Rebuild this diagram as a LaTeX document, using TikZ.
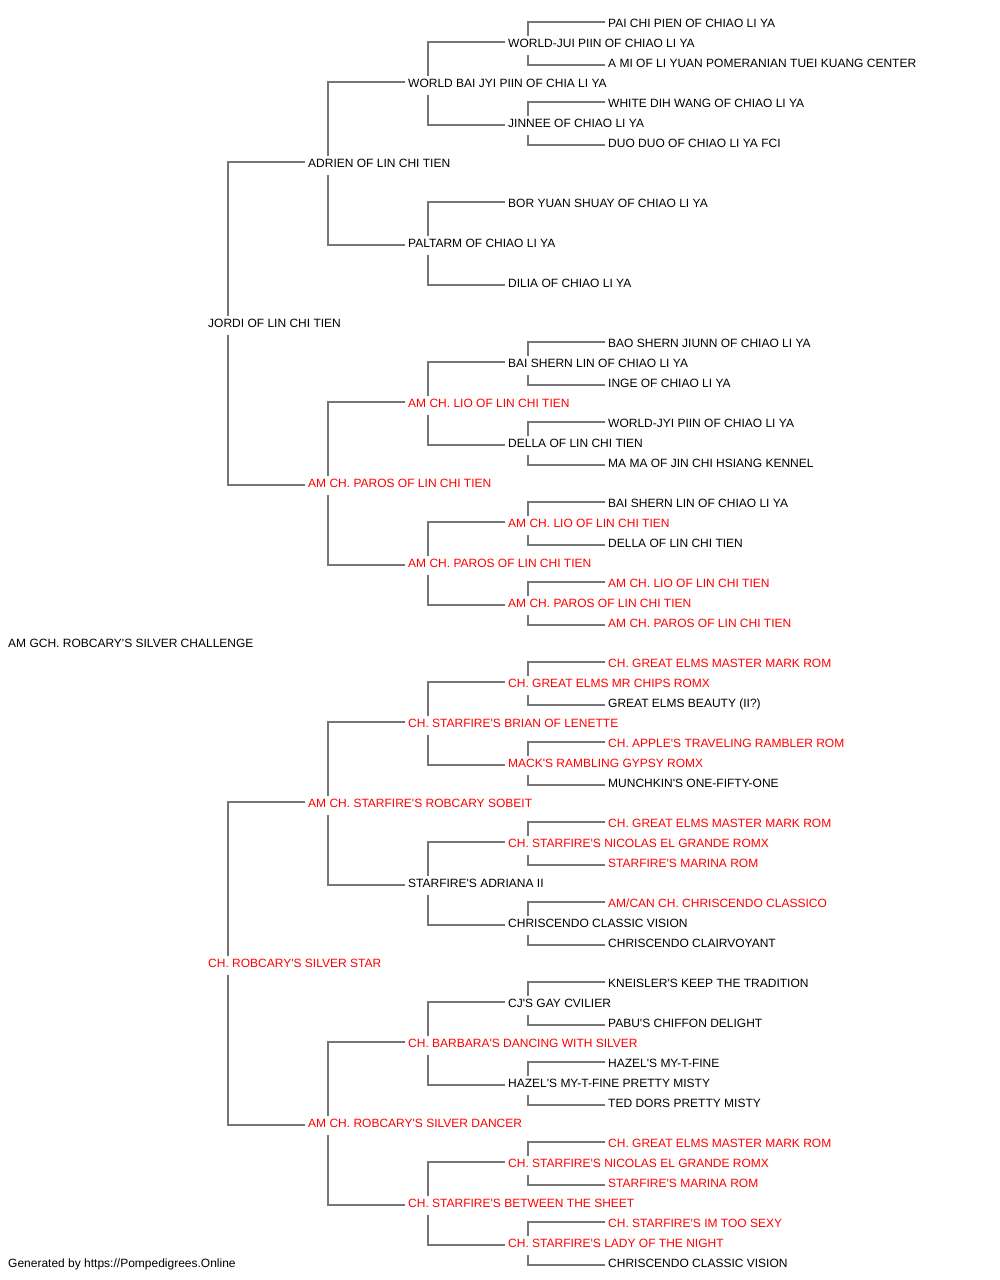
\documentclass[tikz,border=0pt]{standalone}
\usepackage{fontspec}
\setmainfont{Liberation Sans}[Ligatures=TeXOff]

\begin{document}
\begin{tikzpicture}[x=1pt, y=-1pt,
        dog/.style={anchor=west, inner sep=0pt, text height=8.6pt, text depth=0pt,
                    font=\fontsize{12}{14}\selectfont},
        champ/.style={dog, text=red},
        link/.style={line width=1.4pt, color=black!54}]
        \useasboundingbox (0,0) rectangle (1000,1280);

        % 本犬
        \node[dog] (r) at (8, 643.5) {AM GCH. ROBCARY'S SILVER CHALLENGE};

        % 父母
        \node[dog] (s) at (208, 323.5) {JORDI OF LIN CHI TIEN};
        \node[champ] (d) at (208, 963.5) {CH. ROBCARY'S SILVER STAR};

        % 祖父母
        \node[dog] (ss) at (308, 163.5) {ADRIEN OF LIN CHI TIEN};
        \node[champ] (sd) at (308, 483.5) {AM CH. PAROS OF LIN CHI TIEN};
        \node[champ] (ds) at (308, 803.5) {AM CH. STARFIRE'S ROBCARY SOBEIT};
        \node[champ] (dd) at (308, 1123.5) {AM CH. ROBCARY'S SILVER DANCER};

        % 第三代
        \node[dog] (sss) at (408, 83.5) {WORLD BAI JYI PIIN OF CHIA LI YA};
        \node[dog] (ssd) at (408, 243.5) {PALTARM OF CHIAO LI YA};
        \node[champ] (sds) at (408, 403.5) {AM CH. LIO OF LIN CHI TIEN};
        \node[champ] (sdd) at (408, 563.5) {AM CH. PAROS OF LIN CHI TIEN};
        \node[champ] (dss) at (408, 723.5) {CH. STARFIRE'S BRIAN OF LENETTE};
        \node[dog] (dsd) at (408, 883.5) {STARFIRE'S ADRIANA II};
        \node[champ] (dds) at (408, 1043.5) {CH. BARBARA'S DANCING WITH SILVER};
        \node[champ] (ddd) at (408, 1203.5) {CH. STARFIRE'S BETWEEN THE SHEET};

        % 第四代
        \node[dog] (ssss) at (508, 43.5) {WORLD-JUI PIIN OF CHIAO LI YA};
        \node[dog] (sssd) at (508, 123.5) {JINNEE OF CHIAO LI YA};
        \node[dog] (ssds) at (508, 203.5) {BOR YUAN SHUAY OF CHIAO LI YA};
        \node[dog] (ssdd) at (508, 283.5) {DILIA OF CHIAO LI YA};
        \node[dog] (sdss) at (508, 363.5) {BAI SHERN LIN OF CHIAO LI YA};
        \node[dog] (sdsd) at (508, 443.5) {DELLA OF LIN CHI TIEN};
        \node[champ] (sdds) at (508, 523.5) {AM CH. LIO OF LIN CHI TIEN};
        \node[champ] (sddd) at (508, 603.5) {AM CH. PAROS OF LIN CHI TIEN};
        \node[champ] (dsss) at (508, 683.5) {CH. GREAT ELMS MR CHIPS ROMX};
        \node[champ] (dssd) at (508, 763.5) {MACK'S RAMBLING GYPSY ROMX};
        \node[champ] (dsds) at (508, 843.5) {CH. STARFIRE'S NICOLAS EL GRANDE ROMX};
        \node[dog] (dsdd) at (508, 923.5) {CHRISCENDO CLASSIC VISION};
        \node[dog] (ddss) at (508, 1003.5) {CJ'S GAY CVILIER};
        \node[dog] (ddsd) at (508, 1083.5) {HAZEL'S MY-T-FINE PRETTY MISTY};
        \node[champ] (ddds) at (508, 1163.5) {CH. STARFIRE'S NICOLAS EL GRANDE ROMX};
        \node[champ] (dddd) at (508, 1243.5) {CH. STARFIRE'S LADY OF THE NIGHT};

        % 第五代
        \node[dog] (sssss) at (608, 23.5) {PAI CHI PIEN OF CHIAO LI YA};
        \node[dog] (ssssd) at (608, 63.5) {A MI OF LI YUAN POMERANIAN TUEI KUANG CENTER};
        \node[dog] (sssds) at (608, 103.5) {WHITE DIH WANG OF CHIAO LI YA};
        \node[dog] (sssdd) at (608, 143.5) {DUO DUO OF CHIAO LI YA FCI};
        \node[dog] (sdsss) at (608, 343.5) {BAO SHERN JIUNN OF CHIAO LI YA};
        \node[dog] (sdssd) at (608, 383.5) {INGE OF CHIAO LI YA};
        \node[dog] (sdsds) at (608, 423.5) {WORLD-JYI PIIN OF CHIAO LI YA};
        \node[dog] (sdsdd) at (608, 463.5) {MA MA OF JIN CHI HSIANG KENNEL};
        \node[dog] (sddss) at (608, 503.5) {BAI SHERN LIN OF CHIAO LI YA};
        \node[dog] (sddsd) at (608, 543.5) {DELLA OF LIN CHI TIEN};
        \node[champ] (sddds) at (608, 583.5) {AM CH. LIO OF LIN CHI TIEN};
        \node[champ] (sdddd) at (608, 623.5) {AM CH. PAROS OF LIN CHI TIEN};
        \node[champ] (dssss) at (608, 663.5) {CH. GREAT ELMS MASTER MARK ROM};
        \node[dog] (dsssd) at (608, 703.5) {GREAT ELMS BEAUTY (II?)};
        \node[champ] (dssds) at (608, 743.5) {CH. APPLE'S TRAVELING RAMBLER ROM};
        \node[dog] (dssdd) at (608, 783.5) {MUNCHKIN'S ONE-FIFTY-ONE};
        \node[champ] (dsdss) at (608, 823.5) {CH. GREAT ELMS MASTER MARK ROM};
        \node[champ] (dsdsd) at (608, 863.5) {STARFIRE'S MARINA ROM};
        \node[champ] (dsdds) at (608, 903.5) {AM/CAN CH. CHRISCENDO CLASSICO};
        \node[dog] (dsddd) at (608, 943.5) {CHRISCENDO CLAIRVOYANT};
        \node[dog] (ddsss) at (608, 983.5) {KNEISLER'S KEEP THE TRADITION};
        \node[dog] (ddssd) at (608, 1023.5) {PABU'S CHIFFON DELIGHT};
        \node[dog] (ddsds) at (608, 1063.5) {HAZEL'S MY-T-FINE};
        \node[dog] (ddsdd) at (608, 1103.5) {TED DORS PRETTY MISTY};
        \node[champ] (dddss) at (608, 1143.5) {CH. GREAT ELMS MASTER MARK ROM};
        \node[champ] (dddsd) at (608, 1183.5) {STARFIRE'S MARINA ROM};
        \node[champ] (dddds) at (608, 1223.5) {CH. STARFIRE'S IM TOO SEXY};
        \node[dog] (ddddd) at (608, 1263.5) {CHRISCENDO CLASSIC VISION};

        % 连线：父在上，母在下
        \foreach \c in {s,d,ss,sd,ds,dd,sss,ssd,sds,sdd,dss,dsd,dds,ddd,
                        ssss,sssd,sdss,sdsd,sdds,sddd,dsss,dssd,dsds,dsdd,ddss,ddsd,ddds,dddd} {
            \draw[link] ([xshift=20pt, yshift=8pt]\c.west) |- ([xshift=-3pt, yshift=1.5pt]\c s.west);
            \draw[link] ([xshift=20pt, yshift=-11pt]\c.west) |- ([xshift=-3pt, yshift=-1.5pt]\c d.west);
        }

        % 页脚
        \node[dog] (foot) at (8, 1263.5) {Generated by https://Pompedigrees.Online};
    \end{tikzpicture}
\end{document}
